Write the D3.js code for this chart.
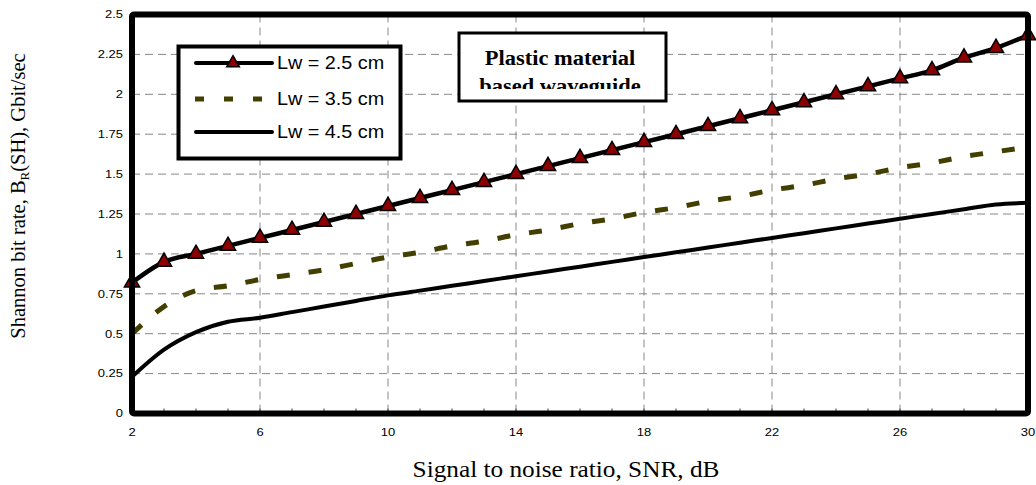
<!DOCTYPE html>
<html><head><meta charset="utf-8">
<script src="https://cdn.jsdelivr.net/npm/d3@7"></script>
<style>body{margin:0;background:#fff}</style>
</head><body>
<svg id="c" width="1036" height="485"></svg>
<script>
const snr = [2,3,4,5,6,7,8,9,10,11,12,13,14,15,16,17,18,19,20,21,22,23,24,25,26,27,28,29,30];
const lw25 = [0.82,0.95,1.0,1.05,1.1,1.15,1.2,1.25,1.3,1.35,1.4,1.45,1.5,1.55,1.6,1.65,1.7,1.75,1.8,1.85,1.9,1.95,2.0,2.05,2.1,2.15,2.23,2.29,2.37];
const lw35 = [0.5,0.67,0.77,0.8,0.84,0.87,0.9,0.94,0.98,1.01,1.05,1.08,1.12,1.15,1.19,1.22,1.26,1.29,1.33,1.36,1.4,1.43,1.47,1.5,1.54,1.57,1.61,1.64,1.67];
const lw45 = [0.23,0.4,0.51,0.575,0.6,0.635,0.67,0.705,0.74,0.77,0.8,0.83,0.86,0.89,0.92,0.95,0.98,1.01,1.04,1.07,1.1,1.13,1.16,1.19,1.22,1.25,1.28,1.31,1.32];
const xTicks = [2,6,10,14,18,22,26,30];
const yTicks = [0,0.25,0.5,0.75,1,1.25,1.5,1.75,2,2.25,2.5];
const seriesNames = ["Lw = 2.5 cm","Lw = 3.5 cm","Lw = 4.5 cm"];

const svg = d3.select("#c");
const L=132, R=1028, T=14.5, B=413.5;
const x = d3.scaleLinear().domain([2,30]).range([L,R]);
const y = d3.scaleLinear().domain([0,2.5]).range([B,T]);
const SX = 1.18;
const sans = "Liberation Sans, Arial", serif = "Liberation Serif, Times New Roman";

// grid
const g = svg.append("g");
g.selectAll(".hg").data(yTicks.slice(1,-1)).enter().append("line")
  .attr("x1",L).attr("x2",R).attr("y1",d=>y(d)).attr("y2",d=>y(d))
  .attr("stroke","#888").attr("stroke-width",1).attr("stroke-dasharray","8,5");
g.selectAll(".vg").data(xTicks.slice(1,-1)).enter().append("line")
  .attr("y1",T).attr("y2",B).attr("x1",d=>x(d)).attr("x2",d=>x(d))
  .attr("stroke","#888").attr("stroke-width",1).attr("stroke-dasharray","8,5");

// minor ticks on bottom
g.selectAll(".mt").data(snr).enter().append("line")
  .attr("x1",d=>x(d)).attr("x2",d=>x(d)).attr("y1",B).attr("y2",B-5)
  .attr("stroke","#444").attr("stroke-width",1);

// tick labels
svg.append("g").selectAll("text").data(xTicks).enter().append("text")
  .attr("transform",d=>`translate(${x(d)},${B+19}) scale(${SX},1)`)
  .attr("text-anchor","middle").attr("dy","0.35em")
  .attr("font-family",sans).attr("font-size",11).text(d=>d);
svg.append("g").selectAll("text").data(yTicks).enter().append("text")
  .attr("transform",d=>`translate(${L-9},${y(d)}) scale(${SX},1)`)
  .attr("text-anchor","end").attr("dy","0.35em")
  .attr("font-family",sans).attr("font-size",11).text(d=>d);

// lines
const line = d3.line().x((d,i)=>x(snr[i])).y(d=>y(d)).curve(d3.curveMonotoneX);
svg.append("path").attr("d",line(lw45)).attr("fill","none").attr("stroke","#000").attr("stroke-width",4);
svg.append("path").attr("d",line(lw35)).attr("fill","none").attr("stroke","#433f00").attr("stroke-width",5).attr("stroke-dasharray","13,19");
svg.append("path").attr("d",line(lw25)).attr("fill","none").attr("stroke","#000").attr("stroke-width",4.5);
const tri = d3.symbol().type(d3.symbolTriangle).size(100);
svg.selectAll(".tri").data(lw25).enter().append("path")
  .attr("d",tri).attr("transform",(d,i)=>`translate(${x(snr[i])},${y(d)})`)
  .attr("fill","#8b0000").attr("stroke","#000").attr("stroke-width",1.5);

// frame
svg.append("rect").attr("x",L).attr("y",T).attr("width",R-L).attr("height",B-T)
  .attr("fill","none").attr("stroke","#000").attr("stroke-width",6).attr("rx",2);

// legend
const lg = svg.append("g");
lg.append("rect").attr("x",178.5).attr("y",46.5).attr("width",222).attr("height",112)
  .attr("fill","#fff").attr("stroke","#000").attr("stroke-width",4);
const ly = [63,99,132];
const tri2 = d3.symbol().type(d3.symbolTriangle).size(70);
lg.append("line").attr("x1",196).attr("x2",272).attr("y1",ly[0]).attr("y2",ly[0]).attr("stroke","#000").attr("stroke-width",4).attr("stroke-linecap","round");
lg.append("path").attr("d",tri2).attr("transform",`translate(233,${ly[0]})`).attr("fill","#8b0000").attr("stroke","#000").attr("stroke-width",1.5);
lg.append("line").attr("x1",195).attr("x2",265).attr("y1",ly[1]).attr("y2",ly[1]).attr("stroke","#433f00").attr("stroke-width",5).attr("stroke-dasharray","9,20");
lg.append("line").attr("x1",196).attr("x2",272).attr("y1",ly[2]).attr("y2",ly[2]).attr("stroke","#000").attr("stroke-width",4).attr("stroke-linecap","round");
lg.selectAll("text").data(seriesNames).enter().append("text")
  .attr("transform",(d,i)=>`translate(277,${ly[i]}) scale(1.1,1)`).attr("dy","0.36em")
  .attr("font-family",sans).attr("font-size",18).text(d=>d);

// title box
svg.append("defs").append("clipPath").attr("id","tc").append("rect")
  .attr("x",459).attr("y",34).attr("width",206).attr("height",55);
svg.append("rect").attr("x",459).attr("y",33).attr("width",207).attr("height",68)
  .attr("fill","#fff").attr("stroke","#000").attr("stroke-width",3);
const tt = svg.append("g").attr("clip-path","url(#tc)");
tt.append("text").attr("transform","translate(560,65) scale(1.07,1)").attr("text-anchor","middle")
  .attr("font-family",serif).attr("font-weight","bold").attr("font-size",21).text("Plastic material");
tt.append("text").attr("transform","translate(560,93) scale(1.07,1)").attr("text-anchor","middle")
  .attr("font-family",serif).attr("font-weight","bold").attr("font-size",21).text("based waveguide");

// axis titles
svg.append("text").attr("transform","translate(566,477) scale(1.1,1)").attr("text-anchor","middle")
  .attr("font-family",serif).attr("font-size",23).text("Signal to noise ratio, SNR, dB");
const yt = svg.append("text").attr("transform","translate(25,196) rotate(-90)").attr("text-anchor","middle")
  .attr("font-family",serif).attr("font-size",20.5);
yt.append("tspan").text("Shannon bit rate, B");
yt.append("tspan").attr("font-size",13).attr("dy",4).text("R");
yt.append("tspan").attr("dy",-4).text("(SH), Gbit/sec");
</script>
</body></html>
